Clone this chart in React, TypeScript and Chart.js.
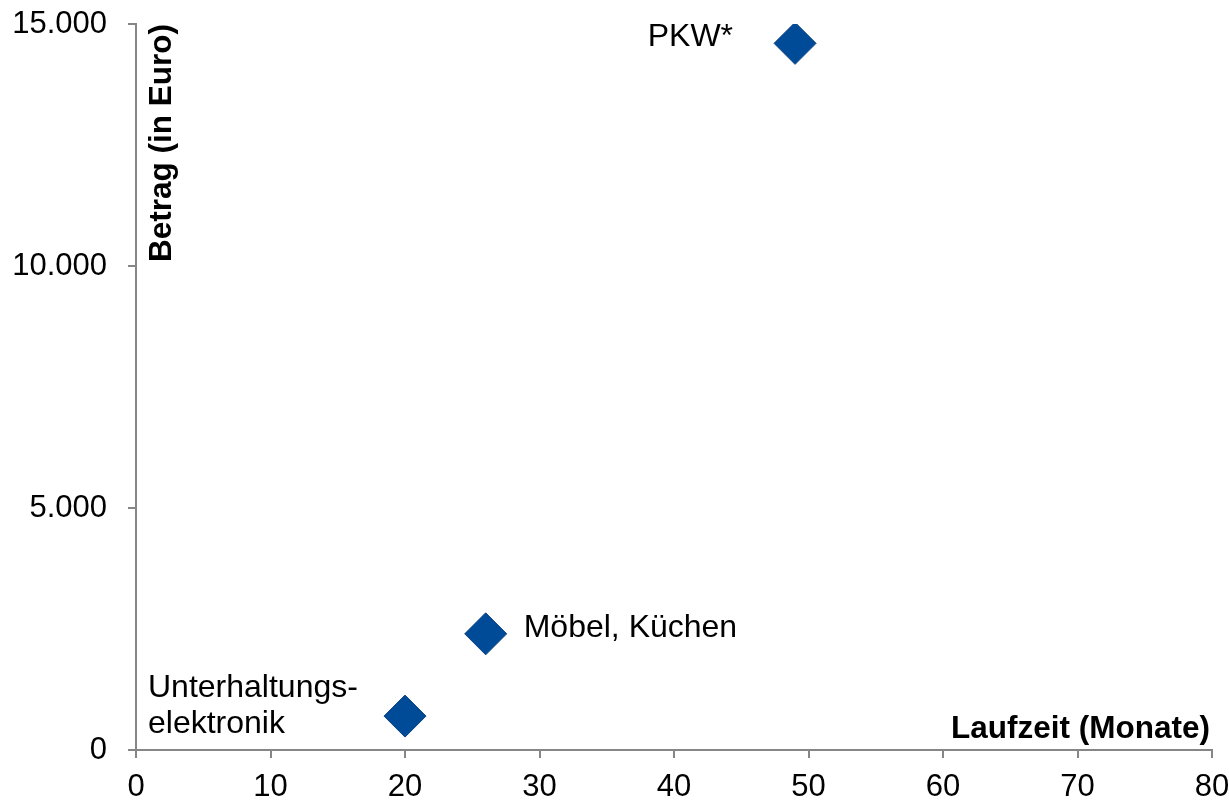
import React, { useEffect, useRef } from "react";
import { Chart, registerables } from "chart.js";

Chart.register(...registerables);

const categories = ["Unterhaltungs-\nelektronik", "Möbel, Küchen", "PKW*"];
const laufzeit = [20, 26, 49];
const betrag = [700, 2400, 14600];
const xTicks = [0, 10, 20, 30, 40, 50, 60, 70, 80];
const yTicks = [0, 5000, 10000, 15000];
const xTitle = "Laufzeit (Monate)";
const yTitle = "Betrag (in Euro)";

const FONT = "'Liberation Sans', Arial, sans-serif";

const labelPlugin = {
  id: "labelPlugin",
  afterDatasetsDraw(chart: any) {
    const ctx = chart.ctx;
    const xs = chart.scales.x;
    const ys = chart.scales.y;
    const area = chart.chartArea;
    ctx.save();
    ctx.fillStyle = "#000";
    ctx.font = `32px ${FONT}`;
    ctx.textBaseline = "middle";
    categories.forEach((c, i) => {
      const px = xs.getPixelForValue(laufzeit[i]);
      const py = ys.getPixelForValue(betrag[i]);
      const lines = c.split("\n");
      if (i === 0) {
        ctx.textAlign = "left";
        lines.forEach((l, k) => {
          ctx.fillText(l, px - 257, py - 28 + k * 36);
        });
      } else if (i === 1) {
        ctx.textAlign = "left";
        ctx.fillText(lines[0], px + 38, py - 6);
      } else {
        ctx.textAlign = "right";
        ctx.fillText(lines[0], px - 62, py - 6);
      }
    });
    ctx.font = `bold 31.5px ${FONT}`;
    ctx.textAlign = "right";
    ctx.textBaseline = "alphabetic";
    ctx.fillText(xTitle, area.right - 2, area.bottom - 12);
    ctx.translate(area.left + 35, area.top);
    ctx.rotate(-Math.PI / 2);
    ctx.textAlign = "right";
    ctx.fillText(yTitle, 0, 0);
    ctx.restore();
  },
};

export default function App() {
  const ref = useRef<HTMLCanvasElement>(null);
  useEffect(() => {
    document.body.style.margin = "0";
    const chart = new Chart(ref.current!, {
      type: "scatter",
      data: {
        datasets: [
          {
            data: laufzeit.map((x, i) => ({ x, y: betrag[i] })),
            pointStyle: "rectRot",
            pointRadius: 21,
            backgroundColor: "#004b98",
            borderColor: "#0a3f80",
            borderWidth: 1,
          },
        ],
      },
      options: {
        animation: false,
        responsive: false,
        layout: {
          autoPadding: false,
          padding: { top: 24, right: 17, left: 0, bottom: 0 },
        },
        plugins: { legend: { display: false }, tooltip: { enabled: false } },
        scales: {
          x: {
            type: "linear",
            min: 0,
            max: 80,
            afterBuildTicks: (s: any) => {
              s.ticks = xTicks.map((v) => ({ value: v }));
            },
            afterFit: (s: any) => {
              s.height = 52;
              s.paddingLeft = 0;
              s.paddingRight = 0;
            },
            ticks: {
              color: "#000",
              font: { family: FONT, size: 31 },
              padding: 11,
              maxRotation: 0,
            },
            grid: {
              display: true,
              drawOnChartArea: false,
              drawTicks: true,
              tickLength: 8,
              color: "#868686",
              lineWidth: 2,
            },
            border: { display: true, color: "#868686", width: 2 },
          },
          y: {
            type: "linear",
            min: 0,
            max: 15000,
            afterBuildTicks: (s: any) => {
              s.ticks = yTicks.map((v) => ({ value: v }));
            },
            afterFit: (s: any) => {
              s.width = 136;
              s.paddingTop = 0;
              s.paddingBottom = 0;
            },
            ticks: {
              color: "#000",
              font: { family: FONT, size: 31 },
              padding: 21,
              callback: (v: any) => Number(v).toLocaleString("de-DE"),
            },
            grid: {
              display: true,
              drawOnChartArea: false,
              drawTicks: true,
              tickLength: 8,
              color: "#868686",
              lineWidth: 2,
            },
            border: { display: true, color: "#868686", width: 2 },
          },
        },
      },
      plugins: [labelPlugin],
    });
    return () => chart.destroy();
  }, []);
  return (
    <div style={{ width: 1229, height: 802 }}>
      <canvas ref={ref} width={1229} height={802} style={{ display: "block" }} />
    </div>
  );
}
